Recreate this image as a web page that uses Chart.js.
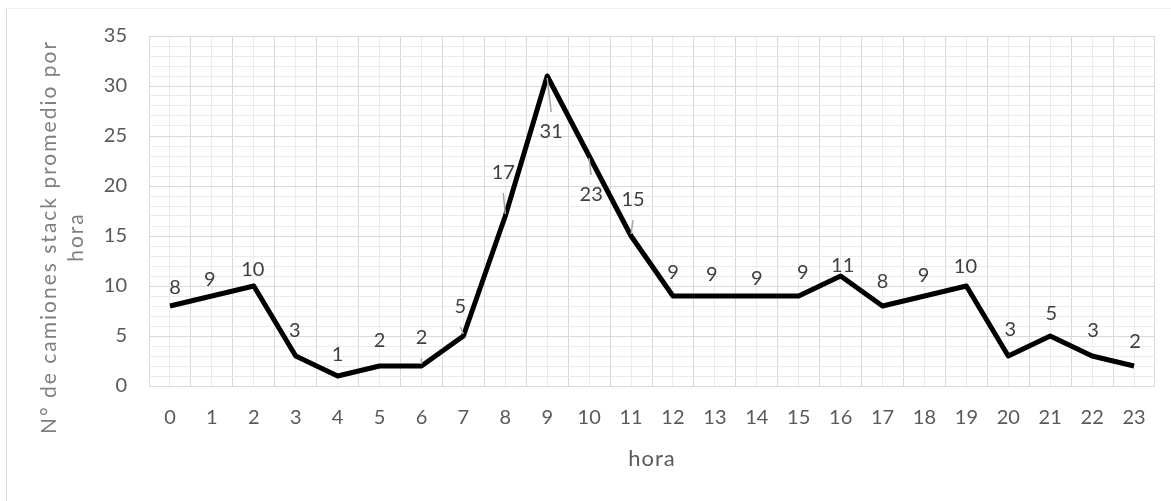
<!DOCTYPE html>
<html>
<head>
<meta charset="utf-8">
<script src="https://cdn.jsdelivr.net/npm/chart.js@4/dist/chart.umd.min.js"></script>
<style>
  body { margin: 0; background: #fff; }
  #wrap { position: relative; width: 1171px; height: 501px; }
  #frame { position: absolute; left: 6px; top: 8px; width: 1200px; height: 600px;
           border-left: 1px solid #d9d9d9; border-top: 1px solid #f0f0f0; }
  canvas { position: absolute; left: 0; top: 0; }
</style>
</head>
<body>
<div id="wrap">
  <div id="frame"></div>
  <canvas id="chart" width="1171" height="501"></canvas>
</div>
<script>
// hora del dia
var horas = ["0","1","2","3","4","5","6","7","8","9","10","11","12","13","14","15","16","17","18","19","20","21","22","23"];
// camiones stack promedio por hora
var camiones = [8, 9, 10, 3, 1, 2, 2, 5, 17, 31, 23, 15, 9, 9, 9, 9, 11, 8, 9, 10, 3, 5, 3, 2];

var yTitle = ["N° de camiones stack promedio por", "hora"];
var xTitle = "hora";

// where each value label sits relative to its point (px), and which get a leader line
var labelOffsets = [
    [5,-18],[-2,-16],[-1,-16],[-1,-25],[0,-21],[0,-25],[0,-28],[-3,-29],
    [-2,-43],[4,56],[2,39],[2,-36],[0,-23],[-3,-21],[0,-17],[4,-23],
    [2,-10],[0,-24],[-1,-20],[-1,-19],[2,-26],[1,-22],[1,-25],[1,-24]
];
var leaderIdx = [6, 7, 8, 9, 10, 11];

var FONT = "Lato";
var TICK_COLOR = "#595959";
var MAJOR = "#d9d9d9";
var MINOR = "#ebebeb";

var valueLabels = {
    id: "valueLabels",
    afterDatasetsDraw(chart) {
        var ctx = chart.ctx;
        var meta = chart.getDatasetMeta(0);
        ctx.save();
        ctx.font = "20px " + FONT;
        ctx.textAlign = "center";
        ctx.textBaseline = "middle";
        meta.data.forEach((pt, i) => {
            var lx = pt.x + labelOffsets[i][0];
            var ly = pt.y + labelOffsets[i][1];
            if (leaderIdx.indexOf(i) >= 0) {
                var dir = ly > pt.y ? 1 : -1;
                ctx.strokeStyle = "#a6a6a6";
                ctx.lineWidth = 1.5;
                ctx.beginPath();
                ctx.moveTo(pt.x, pt.y + dir * 2);
                ctx.lineTo(lx, ly - dir * 20);
                ctx.stroke();
            }
            ctx.fillStyle = "#404040";
            ctx.fillText(chart.data.datasets[0].data[i], lx, ly);
        });
        ctx.restore();
    }
};

// axis titles drawn by hand so the letter spacing can match
var axisTitles = {
    id: "axisTitles",
    afterDraw(chart) {
        var ctx = chart.ctx;
        var area = chart.chartArea;
        ctx.save();
        ctx.textAlign = "center";
        ctx.textBaseline = "middle";
        ctx.letterSpacing = "1px";
        ctx.font = "22px " + FONT;
        ctx.fillStyle = TICK_COLOR;
        ctx.fillText(xTitle, (area.left + area.right) / 2, 459);

        ctx.letterSpacing = "2px";
        ctx.font = "21px " + FONT;
        ctx.fillStyle = "#7f7f7f";
        ctx.translate(49, 237);
        ctx.rotate(-Math.PI / 2);
        yTitle.forEach((line, i) => {
            ctx.fillText(line, 0, i * 27);
        });
        ctx.restore();
    }
};

const ctx = document.getElementById("chart").getContext("2d");
const chart = new Chart(ctx, {
    type: "line",
    data: {
        labels: horas,
        datasets: [{
            data: camiones,
            xAxisID: "x",
            yAxisID: "y",
            borderColor: "#000000",
            borderWidth: 5,
            borderJoinStyle: "round",
            pointRadius: 0,
            tension: 0,
            fill: false
        }]
    },
    options: {
        responsive: false,
        animation: false,
        layout: {
            autoPadding: false,
            padding: { left: 0, top: 36, right: 16, bottom: 0 }
        },
        plugins: {
            legend: { display: false },
            tooltip: { enabled: false }
        },
        scales: {
            // minor vertical lines at each hour
            x2: {
                type: "category",
                labels: horas,
                position: "bottom",
                offset: true,
                grid: { offset: false, color: MINOR, lineWidth: 1, drawTicks: false },
                border: { display: false },
                ticks: { display: false },
                afterFit: function(scale) { scale.height = 0; }
            },
            x: {
                type: "category",
                position: "bottom",
                offset: true,
                grid: { offset: true, color: MAJOR, lineWidth: 1, drawTicks: false },
                border: { display: false },
                ticks: {
                    color: TICK_COLOR,
                    font: { family: FONT, size: 20 },
                    padding: 20,
                    maxRotation: 0,
                    autoSkip: false
                },
                afterFit: function(scale) { scale.height = 115; }
            },
            y: {
                min: 0,
                max: 35,
                grid: {
                    drawTicks: false,
                    lineWidth: 1,
                    color: function(c) {
                        return c.tick.value % 5 === 0 ? MAJOR : MINOR;
                    }
                },
                border: { display: false },
                ticks: {
                    stepSize: 1,
                    autoSkip: false,
                    color: TICK_COLOR,
                    font: { family: FONT, size: 20 },
                    padding: 22,
                    callback: function(v) { return v % 5 === 0 ? v : ""; }
                },
                afterFit: function(scale) { scale.width = 149; }
            }
        }
    },
    plugins: [valueLabels, axisTitles]
});
</script>
</body>
</html>
